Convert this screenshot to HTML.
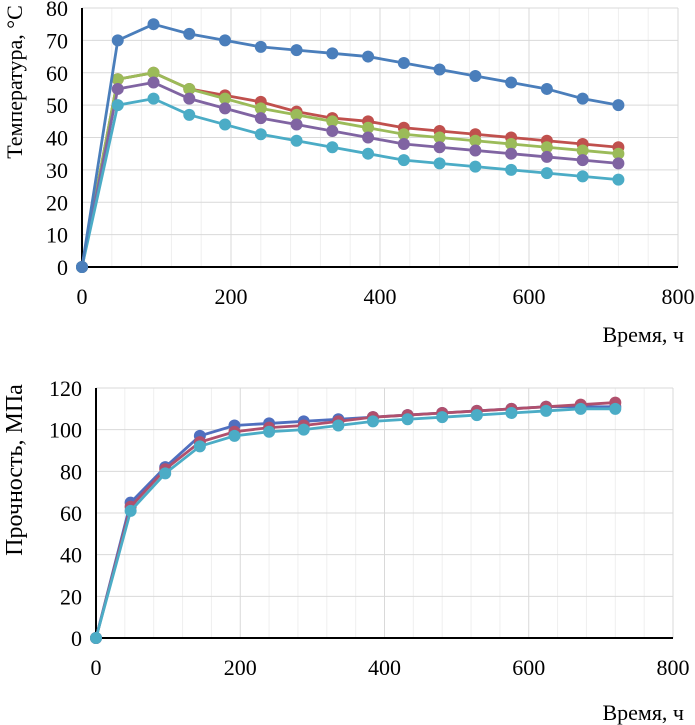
<!DOCTYPE html>
<html><head><meta charset="utf-8"><style>
body{margin:0;background:#fff;width:695px;height:725px;overflow:hidden}
svg{display:block;font-family:"Liberation Serif",serif}
</style></head><body>
<svg id="svg" width="695" height="725"></svg>
<script>
const xs=[0,48,96,144,192,240,288,336,384,432,480,528,576,624,672,720];
const tBlue=[0,70,75,72,70,68,67,66,65,63,61,59,57,55,52,50];
const tRed=[0,58,60,55,53,51,48,46,45,43,42,41,40,39,38,37];
const tGreen=[0,58,60,55,52,49,47,45,43,41,40,39,38,37,36,35];
const tPurple=[0,55,57,52,49,46,44,42,40,38,37,36,35,34,33,32];
const tCyan=[0,50,52,47,44,41,39,37,35,33,32,31,30,29,28,27];
const sBlue=[0,65,82,97,102,103,104,105,106,107,108,109,110,111,111,111];
const sRed=[0,63,81,94,99,101,102,104,106,107,108,109,110,111,112,113];
const sCyan=[0,61,79,92,97,99,100,102,104,105,106,107,108,109,110,110];
const xTicks=[0,200,400,600,800];
const tYTicks=[0,10,20,30,40,50,60,70,80];
const sYTicks=[0,20,40,60,80,100,120];
const NS="http://www.w3.org/2000/svg";
const svg=document.getElementById('svg');
function mk(tag,attrs,parent,text){const e=document.createElementNS(NS,tag);for(const k in attrs)e.setAttribute(k,attrs[k]);if(text!==undefined)e.textContent=text;(parent||svg).appendChild(e);return e;}
function chart(cfg){
 const g=mk('g',{});
 
 
 const X=v=>cfg.x0+(v/800)*(cfg.x1-cfg.x0);
 const Y=v=>cfg.y0-(v/cfg.ymax)*(cfg.y0-cfg.y1);
 for(let v=40;v<800;v+=40){if(v%200)mk('line',{x1:X(v),x2:X(v),y1:cfg.y1,y2:cfg.y0,stroke:'#efefef','stroke-width':1},g);}
 for(let v=200;v<=800;v+=200){const l=mk('line',{x1:X(v),x2:X(v),y1:cfg.y1,y2:cfg.y0,stroke:'#d9d9d9','stroke-width':1},g);}
 cfg.yt.forEach(v=>{if(v>0){const l=mk('line',{x1:cfg.x0,x2:cfg.x1,y1:Y(v),y2:Y(v),stroke:'#d9d9d9','stroke-width':1},g);}
  const t=mk('text',{x:cfg.x0-14,y:Y(v)+8,'text-anchor':'end','font-size':22,fill:'#000'},g,v);});
 xTicks.forEach(v=>{const t=mk('text',{x:X(v),y:cfg.y0+37,'text-anchor':'middle','font-size':22,fill:'#000'},g,v);});
 const ax=mk('line',{x1:cfg.x0,x2:cfg.x0,y1:cfg.y1,y2:cfg.y0,stroke:'#000','stroke-width':2},g);
 const ax2=mk('line',{x1:cfg.x0,x2:cfg.x1,y1:cfg.y0,y2:cfg.y0,stroke:'#000','stroke-width':2},g);
 cfg.series.forEach(s=>{
  const sg=mk('g',{},g);
  
  
  mk('polyline',{points:xs.map((x,i)=>X(x)+','+Y(s.d[i])).join(' '),fill:'none',stroke:s.c,'stroke-width':2.8},sg);
  xs.forEach((x,i)=>{const c=mk('circle',{cx:X(x),cy:Y(s.d[i]),r:6,fill:s.c},sg);});
 });
 const yt=mk('text',{x:0,y:0,transform:`translate(${cfg.ytx},${cfg.yty}) rotate(-90)`,'text-anchor':'middle','font-size':cfg.ytfs,fill:'#000'},g,cfg.ytitle);
 
 const xt=mk('text',{x:684,y:cfg.xty,'text-anchor':'end','font-size':22,fill:'#000'},g,'Время, ч');
 
}
chart({name:'temperature-chart',x0:82,x1:678,y0:267,y1:8,ymax:80,yt:tYTicks,ytitle:'Температура, °C',ytfs:22,ytx:22,yty:82,xty:342,
 series:[{name:'series-red',d:tRed,c:'#c0504d'},{name:'series-green',d:tGreen,c:'#9bbb59'},{name:'series-purple',d:tPurple,c:'#8064a2'},{name:'series-cyan',d:tCyan,c:'#4bacc6'},{name:'series-blue',d:tBlue,c:'#4a7ebb'}]});
chart({name:'strength-chart',x0:96,x1:673,y0:638,y1:388,ymax:120,yt:sYTicks,ytitle:'Прочность, МПа',ytfs:24,ytx:22,yty:470,xty:720,
 series:[{name:'series-blue',d:sBlue,c:'#4f6fbf'},{name:'series-red',d:sRed,c:'#b0506d'},{name:'series-cyan',d:sCyan,c:'#4bacc6'}]});
</script>
</body></html>
